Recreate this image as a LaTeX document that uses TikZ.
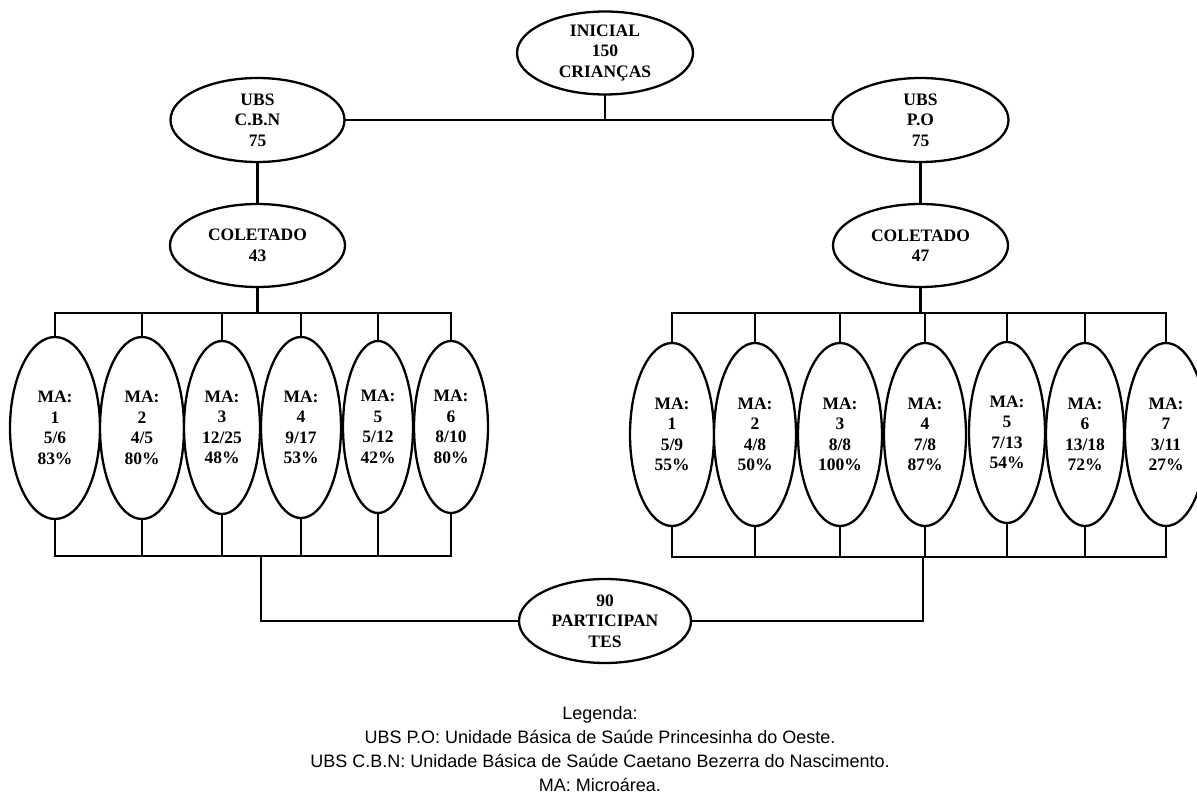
\documentclass[tikz,border=0pt]{standalone}
\usepackage{fontspec}
\setmainfont{Liberation Serif}
\newfontfamily\legfont{Liberation Sans}
\usetikzlibrary{shapes.geometric}
\newcommand\maoval[6]{\node[oval, minimum width=#4pt, minimum height=#5pt] (#1) at (#2,#3) {#6};}
\begin{document}
\begin{tikzpicture}[x=1pt,y=-1pt, line width=2.3pt,
  oval/.style={draw, ellipse, fill=white, inner sep=0pt, align=center,
    font=\bfseries\fontsize{17.5}{20.5}\selectfont},
  wire/.style={line width=2.3pt, line cap=rect}]
\useasboundingbox (0,0) rectangle (1197,799);
\clip (0,0) rectangle (1197,799);
\fill[white] (0,0) rectangle (1197,799);

% top
\node[oval, minimum width=176pt, minimum height=83pt] (ini) at (605,53) {INICIAL\\150\\CRIANÇAS};
\node[oval, minimum width=174pt, minimum height=84pt] (cbn) at (257.5,120) {UBS\\C.B.N\\75};
\node[oval, minimum width=176pt, minimum height=84pt] (po) at (920.5,120) {UBS\\P.O\\75};
\node[oval, minimum width=175pt, minimum height=83pt] (col1) at (257.5,245.5) {COLETADO\\43};
\node[oval, minimum width=175pt, minimum height=83pt] (col2) at (920.5,245.5) {COLETADO\\47};
\node[oval, minimum width=172pt, minimum height=84pt] (part) at (605,621) {90\\PARTICIPAN\\TES};

% left microareas
\maoval{l1}{55}{428}{90}{182}{MA:\\1\\5/6\\83\%}
\maoval{l2}{142}{428}{84}{182}{MA:\\2\\4/5\\80\%}
\maoval{l3}{222}{427.5}{76}{173}{MA:\\3\\12/25\\48\%}
\maoval{l4}{301}{427.5}{80}{181}{MA:\\4\\9/17\\53\%}
\maoval{l5}{378}{427}{70}{172}{MA:\\5\\5/12\\42\%}
\maoval{l6}{451}{427}{74}{172}{MA:\\6\\8/10\\80\%}

% right microareas
\maoval{r1}{672}{434.5}{84}{183}{MA:\\1\\5/9\\55\%}
\maoval{r2}{755}{434.5}{82}{183}{MA:\\2\\4/8\\50\%}
\maoval{r3}{840}{434.5}{84}{183}{MA:\\3\\8/8\\100\%}
\maoval{r4}{925}{434.5}{82}{183}{MA:\\4\\7/8\\87\%}
\maoval{r5}{1007}{432.5}{76}{181}{MA:\\5\\7/13\\54\%}
\maoval{r6}{1085}{434.5}{78}{183}{MA:\\6\\13/18\\72\%}
\maoval{r7}{1166}{434.5}{82}{183}{MA:\\7\\3/11\\27\%}

% connectors top
\draw[wire] (cbn.east) -- (po.west);
\draw[wire] (ini.south) -- (ini.south |- cbn.east);
\draw[wire] (cbn.south) -- (col1.north);
\draw[wire] (po.south) -- (col2.north);

\coordinate (lbus) at (257.5,313);
\coordinate (rbus) at (920.5,313);
\coordinate (lbot) at (261,556);
\coordinate (rbot) at (923,557);

\draw[wire] (col1.south) -- (col1.south |- lbus);
\draw[wire] (col2.south) -- (col2.south |- rbus);
\draw[wire] (l1.north |- lbus) -- (l6.north |- lbus);
\draw[wire] (r1.north |- rbus) -- (r7.north |- rbus);
\draw[wire] (l1.south |- lbot) -- (l6.south |- lbot);
\draw[wire] (r1.south |- rbot) -- (r7.south |- rbot);
\foreach \n in {l1,l2,l3,l4,l5,l6}{
  \draw[wire] (\n.north) -- (\n.north |- lbus);
  \draw[wire] (\n.south) -- (\n.south |- lbot);
}
\foreach \n in {r1,r2,r3,r4,r5,r6,r7}{
  \draw[wire] (\n.north) -- (\n.north |- rbus);
  \draw[wire] (\n.south) -- (\n.south |- rbot);
}
\draw[wire] (lbot) |- (part.west);
\draw[wire] (rbot) |- (part.east);

% legend
\node[align=center, font=\legfont\fontsize{18}{23.8}\selectfont, inner sep=0pt] (leg) at (600,749)
  {Legenda:\\UBS P.O: Unidade Básica de Saúde Princesinha do Oeste.\\UBS C.B.N: Unidade Básica de Saúde Caetano Bezerra do Nascimento.\\MA: Microárea.};
\end{tikzpicture}
\end{document}
